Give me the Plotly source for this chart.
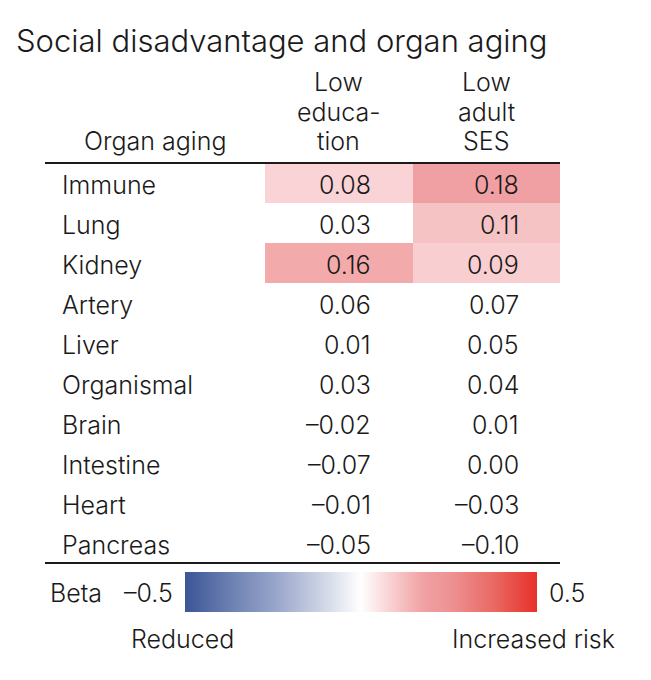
import plotly.graph_objects as go

organs = ["Immune", "Lung", "Kidney", "Artery", "Liver", "Organismal",
          "Brain", "Intestine", "Heart", "Pancreas"]
column_lines = [["Low", "educa-", "tion"], ["Low", "adult", "SES"]]
edu = [0.08, 0.03, 0.16, 0.06, 0.01, 0.03, -0.02, -0.07, -0.01, -0.05]
ses = [0.18, 0.11, 0.09, 0.07, 0.05, 0.04, 0.01, 0.00, -0.03, -0.10]
edu_sig = [True, False, True, False, False, False, False, False, False, False]
ses_sig = [True, True, True, False, False, False, False, False, False, False]
beta_min, beta_max = -0.5, 0.5

FONT = "Inter"
TXT = "#1a1a1a"
WEIGHT = 350
W, H = 651, 680
OFF = 8  # page body margin

def px(x):
    return (x - OFF) / W

def py(y):
    return 1 - (y - OFF) / H

def fmt(v):
    return f"{v:.2f}".replace("-", "–")

z = []
for i in range(len(organs)):
    z.append([edu[i] if edu_sig[i] else None, ses[i] if ses_sig[i] else None])

colorscale = [
    [0.0, "#3b5597"], [0.125, "#6a7fb0"], [0.25, "#96a3c9"], [0.375, "#c8cfe2"],
    [0.5, "#ffffff"], [0.58, "#f9d3d5"], [0.61, "#f6c3c5"], [0.66, "#f2aaab"],
    [0.68, "#f0a0a3"], [0.75, "#ee9395"], [0.875, "#e96a65"], [1.0, "#e8302a"],
]

fig = go.Figure()
fig.add_trace(go.Heatmap(
    z=z, x=[0, 1], y=list(range(len(organs))),
    zmin=beta_min, zmax=beta_max, colorscale=colorscale,
    hoverongaps=False, xgap=0, ygap=0,
    colorbar=dict(orientation="h", lenmode="pixels", len=352, thickness=40,
                  x=px(361), xanchor="center", y=py(592), yanchor="middle",
                  outlinewidth=0, showticklabels=False, ticks="", xpad=0, ypad=0),
))

SZ = 25

def label(x, y, text, anchor="left", size=SZ, xref="paper", yref="paper", ys=-2):
    xs = {"left": -2, "right": 2, "center": 0}[anchor]
    return dict(x=x, xref=xref, y=y, yref=yref, text=text, showarrow=False,
                xanchor=anchor, yanchor="middle", xshift=xs, yshift=ys,
                font=dict(family=FONT, size=size, color=TXT, weight=WEIGHT))

ann = []
toff = 0.22
for c, vals in enumerate([edu, ses]):
    for i, v in enumerate(vals):
        ann.append(label(c + toff, i, fmt(v), anchor="right", xref="x", yref="y"))
for i, o in enumerate(organs):
    ann.append(label(px(62), i, o, yref="y"))
header_y = [80, 110, 139]
for c, lines in enumerate(column_lines):
    for ln, yy in zip(lines, header_y):
        ann.append(label(c, py(yy), ln, anchor="center", xref="x"))
ann.append(label(px(84), py(139), "Organ aging"))
ann.append(label(px(16), py(42), "Social disadvantage and organ aging", size=31, ys=2))
ann.append(label(px(50), py(591), "Beta"))
ann.append(label(px(173), py(591), f"{beta_min:g}".replace("-", "–"), anchor="right"))
ann.append(label(px(549), py(591), f"{beta_max:g}"))
ann.append(label(px(131), py(637), "Reduced"))
ann.append(label(px(615), py(637), "Increased risk", anchor="right"))

shapes = [
    dict(type="line", xref="paper", yref="paper", x0=px(45), x1=px(560),
         y0=py(163), y1=py(163), line=dict(color=TXT, width=2)),
    dict(type="line", xref="paper", yref="paper", x0=px(45), x1=px(560),
         y0=py(563), y1=py(563), line=dict(color=TXT, width=2)),
]

fig.update_layout(
    width=W, height=H, margin=dict(l=0, r=0, t=0, b=0),
    paper_bgcolor="white", plot_bgcolor="white",
    xaxis=dict(domain=[px(265), px(560)], range=[-0.5, 1.5], visible=False, fixedrange=True),
    yaxis=dict(domain=[py(563), py(163)], range=[9.5, -0.5], visible=False, fixedrange=True),
    annotations=ann, shapes=shapes, showlegend=False,
)
fig.write_html("out.html")
